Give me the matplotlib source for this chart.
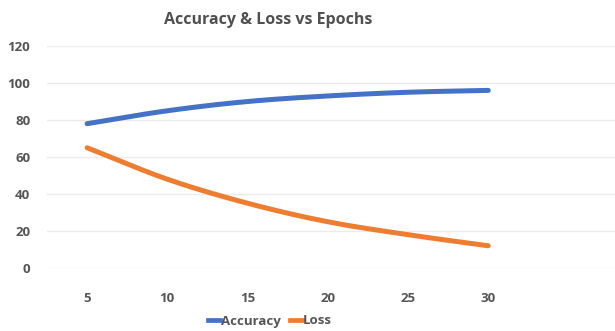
import numpy as np
import matplotlib
matplotlib.use("Agg")
import matplotlib.pyplot as plt
from matplotlib.lines import Line2D

epochs = [5, 10, 15, 20, 25, 30]
accuracy = [78, 85, 90, 93, 95, 96]
loss = [65, 48, 35, 25, 18, 12]
yticks = [0, 20, 40, 60, 80, 100, 120]

plt.rcParams['font.family'] = ['Open Sans', 'DejaVu Sans']

def smooth(x, y, n=30):
    # Catmull-Rom style smoothing for drawing (like Excel smoothed lines)
    x = np.asarray(x, float); y = np.asarray(y, float)
    px = np.concatenate([[2*x[0]-x[1]], x, [2*x[-1]-x[-2]]])
    py = np.concatenate([[2*y[0]-y[1]], y, [2*y[-1]-y[-2]]])
    xs, ys = [], []
    t = np.linspace(0, 1, n)
    for i in range(1, len(px)-2):
        p0, p1, p2, p3 = (np.array([px[j], py[j]]) for j in range(i-1, i+3))
        for tt in t[:-1] if i < len(px)-3 else t:
            pt = 0.5*((2*p1) + (-p0+p2)*tt + (2*p0-5*p1+4*p2-p3)*tt**2 + (-p0+3*p1-3*p2+p3)*tt**3)
            xs.append(pt[0]); ys.append(pt[1])
    return xs, ys

fig = plt.figure(figsize=(6.15, 3.31), dpi=100)
ax = fig.add_axes([47/615, (331-268)/331, 1-47/615, (268-46)/331])

blue = '#4472C4'
orange = '#ED7D31'
xs, ys = smooth(epochs, accuracy)
ax.plot(xs, ys, color=blue, lw=3.6, solid_capstyle='round')
xs, ys = smooth(epochs, loss)
ax.plot(xs, ys, color=orange, lw=3.6, solid_capstyle='round')

ax.set_ylim(0, 120)
ax.set_xlim(2.5, 37.9)
ax.set_yticks(yticks)
ax.set_xticks(epochs)
ax.set_xticklabels([str(e) for e in epochs])
ax.grid(axis='y', color='#EBEBEB', lw=1)
ax.set_axisbelow(True)
for s in ax.spines.values():
    s.set_visible(False)
ax.tick_params(length=0, colors='#555555', labelsize=9.5)
ax.tick_params(axis='y', pad=12)
ax.tick_params(axis='x', pad=17)
for lab in ax.get_xticklabels() + ax.get_yticklabels():
    lab.set_fontweight('bold')

fig.text(268/615, 1-20/331, 'Accuracy & Loss vs Epochs', ha='center', va='center',
         fontsize=11.5, color='#505050', fontweight='bold')

handles = [Line2D([], [], color=blue, lw=3.4), Line2D([], [], color=orange, lw=3.4)]
leg = fig.legend(handles, ['Accuracy', 'Loss'], loc='center', bbox_to_anchor=(270/615, 1-321/331),
                 ncol=2, frameon=False, fontsize=9.5, handlelength=0.9, handletextpad=0.1,
                 columnspacing=0.7)
for t in leg.get_texts():
    t.set_color('#555555'); t.set_fontweight('bold')

fig.savefig('out.png', dpi=100)
